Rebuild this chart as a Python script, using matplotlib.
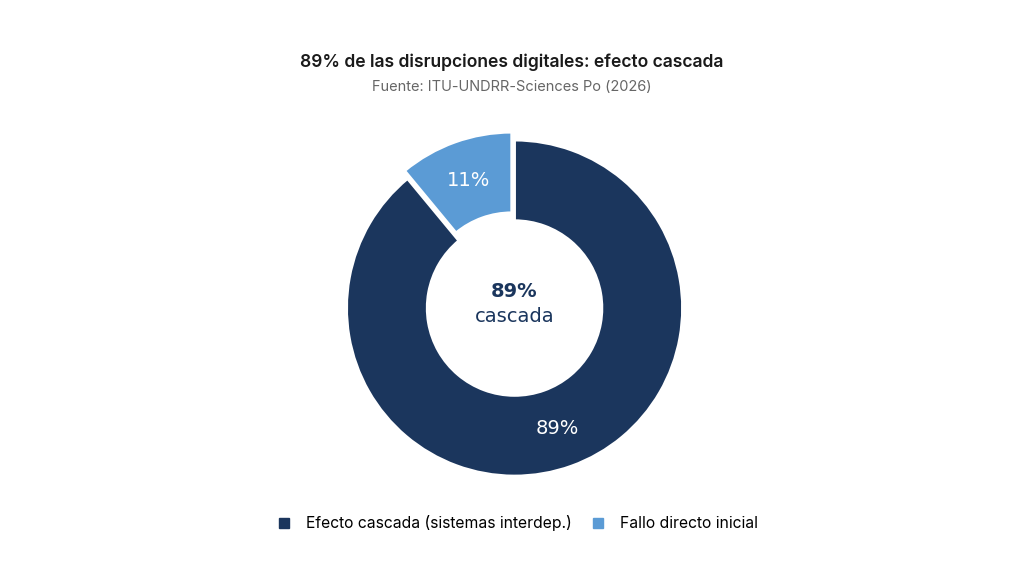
import matplotlib
matplotlib.use("Agg")
import matplotlib.pyplot as plt
from matplotlib.lines import Line2D

labels = ["Efecto cascada (sistemas interdep.)", "Fallo directo inicial"]
values = [89, 11]
colors = ["#1b365d", "#5b9bd5"]
explode = [0, 0.05]

title = "89% de las disrupciones digitales: efecto cascada"
subtitle = "Fuente: ITU-UNDRR-Sciences Po (2026)"

fig = plt.figure(figsize=(10.24, 5.69), dpi=100)
ax = fig.add_axes([0.2974, 0.0896, 0.4102, 0.738])

wedges, texts, autotexts = ax.pie(
    values, colors=colors, explode=explode, startangle=90, counterclock=False,
    autopct="%1.0f%%", pctdistance=0.76,
    wedgeprops=dict(width=0.48, edgecolor="white", linewidth=2),
    textprops=dict(color="white", fontsize=14, family="DejaVu Sans"),
)
ax.set_xlim(-1.25, 1.25)
ax.set_ylim(-1.25, 1.25)
ax.set_aspect("equal")
ax.axis("off")

ax.text(0, 0.1, "89%", ha="center", va="center", fontsize=14,
        fontweight="bold", color="#1b365d")
ax.text(0, -0.05, "cascada", ha="center", va="center", fontsize=14,
        color="#1b365d")

fig.text(0.5, 0.891, title, ha="center", va="center", fontsize=12.6,
         fontweight="semibold", family="Inter", color="#1a1a1a")
fig.text(0.5, 0.847, subtitle, ha="center", va="center", fontsize=10.5,
         family="Inter", color="#666666")

handles = [Line2D([], [], marker="s", linestyle="", markersize=7.5,
                  markerfacecolor=c, markeredgecolor=c) for c in colors]
fig.legend(handles, labels, loc="center", bbox_to_anchor=(0.505, 1 - 523 / 569),
           ncol=2, frameon=False, prop=dict(family="Inter", size=11.3),
           handlelength=1.0, handletextpad=0.9, columnspacing=1.2)

fig.savefig("out.png", dpi=100)
